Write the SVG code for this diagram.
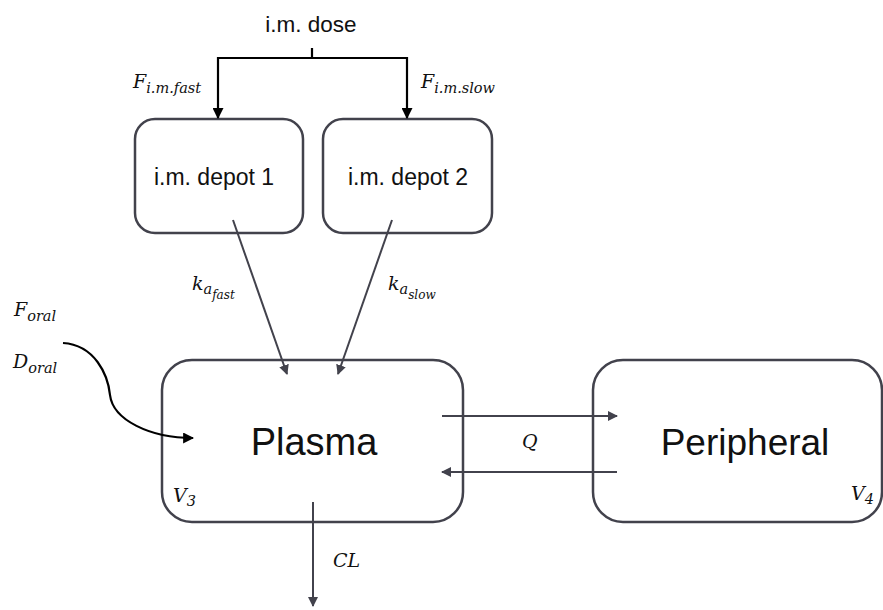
<svg xmlns="http://www.w3.org/2000/svg" width="883" height="610" viewBox="0 0 883 610">
<defs>
<style>
.box{fill:#fff;stroke:#42424c;stroke-width:2.5}
.lbl{font-family:"Liberation Sans",Arial,sans-serif;fill:#111;text-anchor:middle}
.m{font-family:"DejaVu Serif","Liberation Serif",serif;font-style:italic;fill:#111;font-size:19px}
.s{font-size:14.5px}
.ss{font-size:12px}
.g{fill:none;stroke:#42424c;stroke-width:2}
.k{fill:none;stroke:#000;stroke-width:2.2}
</style>
<marker id="ag" viewBox="0 0 10 10" refX="9" refY="5" markerWidth="5" markerHeight="5" orient="auto"><path d="M0,0 L10,5 L0,10 z" fill="#42424c"/></marker>
<marker id="ak" viewBox="0 0 10 10" refX="9" refY="5" markerWidth="5" markerHeight="5" orient="auto"><path d="M0,0 L10,5 L0,10 z" fill="#000"/></marker>
</defs>
<rect width="883" height="610" fill="#fff"/>
<g id="dose">
<text class="lbl" x="311" y="32" font-size="22.5">i.m. dose</text>
</g>
<g id="depot1">
<rect class="box" x="135" y="119" width="168" height="114" rx="20"/>
<text class="lbl" x="214" y="185" font-size="23">i.m. depot 1</text>
</g>
<g id="depot2">
<rect class="box" x="323" y="119" width="169" height="114" rx="20"/>
<text class="lbl" x="408" y="185" font-size="23">i.m. depot 2</text>
</g>
<g id="plasma">
<rect class="box" x="162" y="360" width="301" height="162" rx="30"/>
<text class="lbl" x="314" y="455" font-size="38">Plasma</text>
<text class="m" x="173" y="502">V<tspan class="s" dy="4">3</tspan></text>
</g>
<g id="peripheral">
<rect class="box" x="593" y="360" width="289" height="162" rx="30"/>
<text class="lbl" x="745" y="455" font-size="37">Peripheral</text>
<text class="m" x="851" y="500">V<tspan class="s" dy="4">4</tspan></text>
</g>
<g id="connectors">
<path class="k" d="M312,48 V58 M218,58 H407"/>
<path class="k" d="M218,57 V118" marker-end="url(#ak)"/>
<path class="k" d="M407,57 V118" marker-end="url(#ak)"/>
<path class="g" d="M233,220 L287,374" marker-end="url(#ag)"/>
<path class="g" d="M392,220 L338,374" marker-end="url(#ag)"/>
<path class="k" d="M63,343 C95,345 108,375 110,395 C113,420 150,438 193,438" marker-end="url(#ak)"/>
<path class="g" d="M442,416 H617" marker-end="url(#ag)"/>
<path class="g" d="M617,472 H442" marker-end="url(#ag)"/>
<path class="g" d="M313,502 V606" marker-end="url(#ag)"/>
<text class="m" x="133" y="88">F<tspan class="s" dy="5">i.m.fast</tspan></text>
<text class="m" x="421" y="88">F<tspan class="s" dy="5">i.m.slow</tspan></text>
<text class="m" x="192" y="290">k<tspan class="s" dy="4">a</tspan><tspan class="ss" dy="5">fast</tspan></text>
<text class="m" x="388" y="290">k<tspan class="s" dy="4">a</tspan><tspan class="ss" dy="5">slow</tspan></text>
<text class="m" x="14" y="316">F<tspan class="s" dy="5">oral</tspan></text>
<text class="m" x="13" y="368">D<tspan class="s" dy="5">oral</tspan></text>
<text class="m" x="522" y="448">Q</text>
<text class="m" x="333" y="567">CL</text>
</g>
</svg>
